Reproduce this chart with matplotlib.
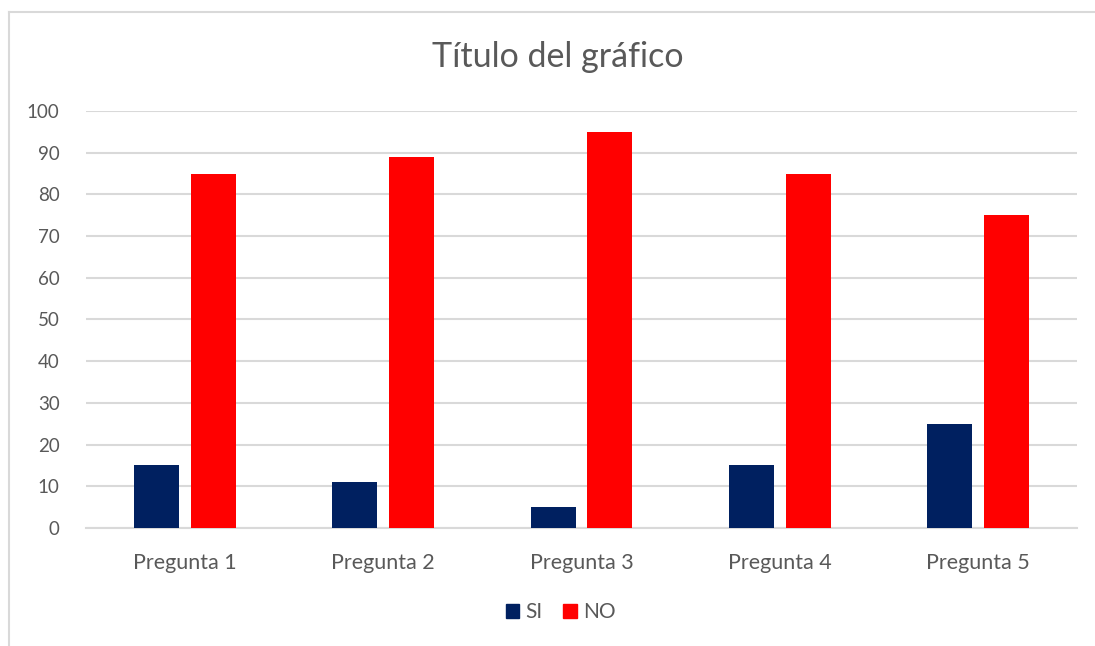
import matplotlib
matplotlib.use("Agg")
import matplotlib.pyplot as plt
from matplotlib.lines import Line2D
from matplotlib.patches import Patch
import numpy as np

plt.rcParams['font.family'] = ['Lato', 'DejaVu Sans']

preguntas = ['Pregunta 1', 'Pregunta 2', 'Pregunta 3', 'Pregunta 4', 'Pregunta 5']
si = [15, 11, 5, 15, 25]
no = [85, 89, 95, 85, 75]
y_ticks = [0, 10, 20, 30, 40, 50, 60, 70, 80, 90, 100]

c_si = '#002060'
c_no = '#FF0000'
c_grid = '#D9D9D9'
c_text = '#595959'

fig = plt.figure(figsize=(10.95, 6.46), dpi=100)
ax = fig.add_axes([0.0785, 0.1827, 0.9051, 0.6455])

x = np.arange(len(preguntas))
w = 0.227
off = 0.143
ax.bar(x - off, si, w, color=c_si, zorder=3)
ax.bar(x + off, no, w, color=c_no, zorder=3)

ax.set_xlim(-0.5, len(preguntas) - 0.5)
ax.set_ylim(0, 100)
ax.set_yticks(y_ticks)
ax.set_xticks(x)
ax.set_xticklabels(preguntas)
ax.yaxis.grid(True, color=c_grid, linewidth=1.5, zorder=0)
ax.set_axisbelow(True)
for s in ['top', 'right', 'left']:
    ax.spines[s].set_visible(False)
ax.spines['bottom'].set_color(c_grid)
ax.spines['bottom'].set_linewidth(1.5)
ax.tick_params(axis='both', length=0, labelcolor=c_text)
ax.tick_params(axis='y', pad=19, labelsize=13.5)
ax.tick_params(axis='x', pad=18, labelsize=15.5)

fig.text(0.5097, 0.911, 'Título del gráfico', ha='center', va='center',
         fontsize=24.5, color=c_text)

handles = [Patch(color=c_si, label='SI'), Patch(color=c_no, label='NO')]
fig.legend(handles=handles, loc='center', bbox_to_anchor=(0.512, 0.052), ncol=2,
           frameon=False, fontsize=15, labelcolor=c_text, handlelength=0.65,
           handleheight=0.65, handletextpad=0.3, columnspacing=1.0)

# chart frame (left and top edges)
fig.add_artist(Line2D([9 / 1095, 9 / 1095], [0, 1 - 12 / 646], color=c_grid,
                      linewidth=1.5, transform=fig.transFigure))
fig.add_artist(Line2D([9 / 1095, 1], [1 - 12 / 646, 1 - 12 / 646], color=c_grid,
                      linewidth=1.5, transform=fig.transFigure))

fig.savefig('out.png', dpi=100, facecolor='white')
